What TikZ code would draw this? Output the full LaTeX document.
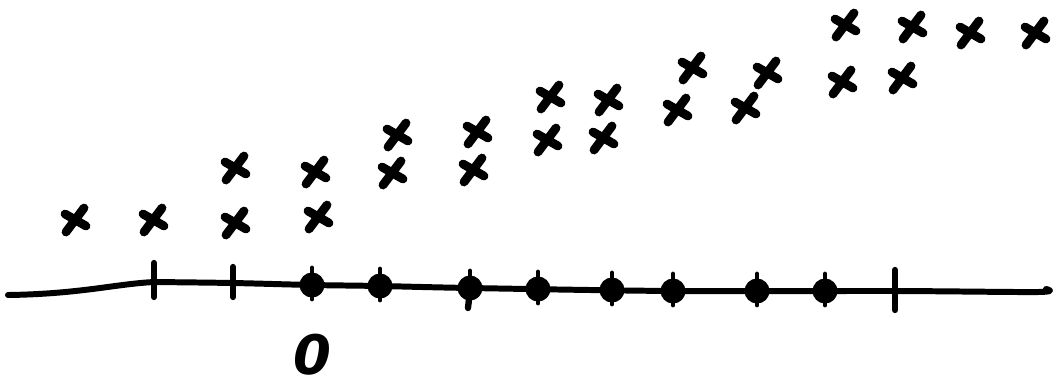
\documentclass[tikz,border=0pt]{standalone}
\usepackage{fontspec}
\newfontfamily\sketchfont{DejaVu Sans}
\usetikzlibrary{positioning}

\begin{document}
\begin{tikzpicture}[x=0.02cm, y=-0.02cm,
    axisline/.style={line width=3.4pt, line cap=round, line join=round},
    tickline/.style={line width=3.6pt, line cap=round},
    xstroke/.style={line width=5pt, line cap=round},
    zerolabel/.style={font=\sketchfont\bfseries\itshape\fontsize{31}{31}\selectfont, inner sep=0pt}
]
\useasboundingbox (0,0) rectangle (1061,390);

% the number line
\draw [axisline] (8,295) .. controls (80,294) and (115,284) .. (154,282)
  -- plot[smooth, tension=0.5] coordinates
  {(154,282) (233,283) (312,285) (380,286) (470,288)
   (673,291) (895,291) (1038,292) (1046,289)};

% ticks
\foreach \x/\ya/\yb in {154/263/297, 233/267/297, 895/270/310}
  \draw [tickline] (\x,\ya) -- (\x,\yb);
\draw [tickline] (470,290) -- (468,308);

% dots on the line
\foreach \x/\y in {312/285, 380/286, 470/288, 538/289, 612/290, 673/291, 757/291, 825/291} {
  \fill (\x,\y) circle (0.25cm);
  \draw [tickline, line width=2.8pt] (\x,\y-17) -- (\x,\y+14);
}

% crosses
\foreach \x/\y in {75/220, 153/220, 235/223, 318/217, 235/168, 315/172,
                   392/173, 473/170, 397/135, 477/132, 547/140, 603/138,
                   550/97, 608/100, 677/110, 745/108, 692/68, 767/73,
                   842/82, 902/78, 845/25, 912/27, 970/33, 1035/33}
  \draw [xstroke] (\x-9,\y+12) -- (\x+9,\y-12) (\x-10,\y-6) -- (\x+11,\y+6);

\node (zero) [zerolabel] at (312,355) {0};
\end{tikzpicture}
\end{document}
